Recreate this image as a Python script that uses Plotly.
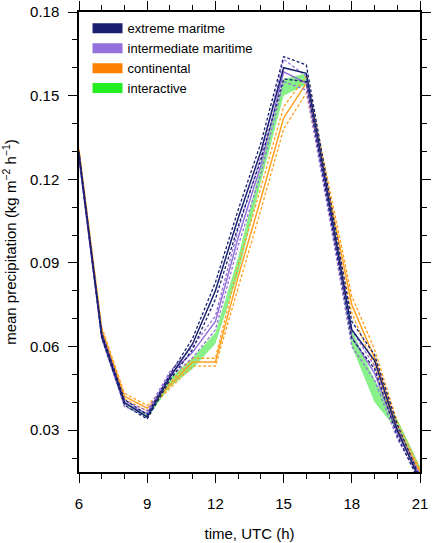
import plotly.graph_objects as go

hours = [6, 7, 8, 9, 10, 11, 12, 13, 14, 15, 16, 17, 18, 19, 20, 21]

# extreme maritime: mean and the two dashed members
ext_mean = [0.129, 0.064, 0.040, 0.0347, 0.049, 0.061, 0.080, 0.106, 0.130, 0.160, 0.158, 0.112, 0.066, 0.055, 0.030, 0.012]
ext_hi = [0.130, 0.065, 0.041, 0.0355, 0.050, 0.063, 0.083, 0.109, 0.133, 0.164, 0.161, 0.115, 0.069, 0.057, 0.032, 0.013]
ext_lo = [0.128, 0.063, 0.039, 0.0340, 0.048, 0.059, 0.077, 0.103, 0.127, 0.156, 0.155, 0.109, 0.063, 0.052, 0.028, 0.011]

# intermediate maritime
int_mean = [0.128, 0.064, 0.0395, 0.036, 0.050, 0.058, 0.069, 0.099, 0.125, 0.1585, 0.1545, 0.110, 0.0634, 0.0505, 0.029, 0.013]
int_hi = [0.129, 0.065, 0.0405, 0.037, 0.051, 0.060, 0.071, 0.102, 0.128, 0.163, 0.157, 0.113, 0.066, 0.053, 0.031, 0.014]
int_lo = [0.127, 0.063, 0.0385, 0.035, 0.049, 0.056, 0.066, 0.096, 0.122, 0.155, 0.152, 0.107, 0.060, 0.048, 0.027, 0.012]

# continental
con_mean = [0.130, 0.066, 0.0422, 0.0379, 0.046, 0.0545, 0.0545, 0.085, 0.113, 0.142, 0.1545, 0.1147, 0.075, 0.056, 0.031, 0.015]
con_hi = [0.131, 0.067, 0.0432, 0.0389, 0.047, 0.0558, 0.0558, 0.089, 0.117, 0.146, 0.157, 0.118, 0.078, 0.059, 0.033, 0.016]
con_lo = [0.129, 0.065, 0.0412, 0.0369, 0.045, 0.0530, 0.0530, 0.081, 0.109, 0.138, 0.151, 0.111, 0.072, 0.053, 0.029, 0.014]

# interactive: shaded range
itr_hi = [0.1295, 0.0645, 0.040, 0.0358, 0.0485, 0.056, 0.065, 0.092, 0.125, 0.156, 0.158, 0.116, 0.066, 0.048, 0.034, 0.017]
itr_lo = [0.1285, 0.0635, 0.039, 0.0345, 0.0455, 0.052, 0.061, 0.086, 0.119, 0.150, 0.154, 0.110, 0.060, 0.040, 0.030, 0.015]

names = ["extreme maritme", "intermediate maritime", "continental", "interactive"]
legend_colors = ["#18206f", "#9370db", "#ff8000", "#22ee22"]
line_colors = ["#18206f", "#9370db", "#ffa020"]

fig = go.Figure()

# interactive band
fig.add_trace(go.Scatter(x=hours, y=itr_hi, mode="lines", line=dict(width=0),
                         showlegend=False, hoverinfo="skip"))
fig.add_trace(go.Scatter(x=hours, y=itr_lo, mode="lines", line=dict(width=0),
                         fill="tonexty", fillcolor="rgba(40,230,40,0.55)",
                         showlegend=False, hoverinfo="skip"))

groups = [
    (con_mean, con_hi, con_lo, line_colors[2]),
    (int_mean, int_hi, int_lo, line_colors[1]),
    (ext_mean, ext_hi, ext_lo, line_colors[0]),
]
for mean, hi, lo, col in groups:
    for member in (hi, lo):
        fig.add_trace(go.Scatter(x=hours, y=member, mode="lines",
                                 line=dict(color=col, width=1.3, dash="3px,2px"),
                                 showlegend=False))
    fig.add_trace(go.Scatter(x=hours, y=mean, mode="lines",
                             line=dict(color=col, width=1.5),
                             showlegend=False))

# legend entries (thick line swatches)
for name, col in zip(names, legend_colors):
    fig.add_trace(go.Scatter(x=[None], y=[None], mode="lines", name=name,
                             line=dict(color=col, width=12)))

axis_common = dict(
    showline=True, linecolor="black", linewidth=1.5, mirror="allticks",
    ticks="outside", ticklen=9, tickwidth=1.2, tickcolor="black",
    showgrid=False, zeroline=False, automargin=False,
    tickfont=dict(size=15, color="black"),
)

fig.update_xaxes(
    range=[6, 21], tick0=6, dtick=3,
    minor=dict(dtick=1, ticks="outside", ticklen=5, tickcolor="black", tickwidth=1.2),
    title=dict(text="time, UTC (h)", font=dict(size=15, color="black"), standoff=18),
    ticklabelstandoff=8,
    **axis_common,
)
fig.update_yaxes(
    range=[0.015, 0.18], tick0=0.03, dtick=0.03, tickformat=".2f",
    minor=dict(dtick=0.01, ticks="outside", ticklen=5, tickcolor="black", tickwidth=1.2),
    title=dict(text="mean precipitation (kg m<sup>\u22122</sup> h<sup>\u22121</sup>)",
               font=dict(size=15, color="black"), standoff=14),
    ticklabelstandoff=6,
    **axis_common,
)

fig.update_layout(
    width=432, height=543,
    margin=dict(l=79, r=12, t=12, b=71),
    paper_bgcolor="white", plot_bgcolor="white",
    font=dict(family="Liberation Sans, Arial, sans-serif", size=15, color="black"),
    legend=dict(x=0.025, y=0.997, xanchor="left", yanchor="top",
                traceorder="normal",
                bgcolor="rgba(0,0,0,0)", font=dict(size=13),
                itemwidth=30, tracegroupgap=0),
)

fig.write_html("out.html", config={"displayModeBar": False},
               post_script="document.body.style.margin='0';")
